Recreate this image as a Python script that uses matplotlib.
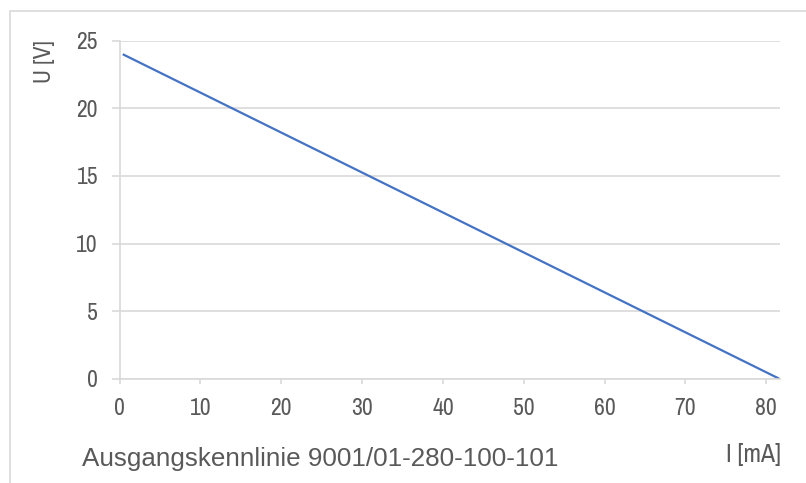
import numpy as np
import matplotlib.pyplot as plt
from matplotlib.patches import Rectangle

# output characteristic: current (mA) vs voltage (V)
current_ma = [0.4, 81.6]
voltage_v = [24.0, 0.0]

x_ticks = [0, 10, 20, 30, 40, 50, 60, 70, 80]
y_ticks = [0, 5, 10, 15, 20, 25]

title = "Ausgangskennlinie 9001/01-280-100-101"
text_col = "#595959"
grid_col = "#d9d9d9"

narrow = ['Liberation Sans Narrow', 'Archivo Narrow', 'Roboto Condensed', 'Liberation Sans', 'DejaVu Sans']
plt.rcParams['font.family'] = narrow

fig = plt.figure(figsize=(8.06, 4.83), dpi=100)
W, H = 806, 483
ax = fig.add_axes([119.5 / W, 1 - 378.7 / H, (780 - 119.5) / W, (378.7 - 40.7) / H])

ax.plot(current_ma, voltage_v, color="#4472C4", lw=1.6, solid_capstyle="butt")

ax.set_xlim(0, 81.7)
ax.set_ylim(0, 25)
ax.set_xticks(x_ticks)
ax.set_yticks(y_ticks)
ax.grid(axis="y", color=grid_col, lw=1.2)
ax.set_axisbelow(True)
for s in ["top", "right"]:
    ax.spines[s].set_visible(False)
ax.spines["left"].set_color(grid_col)
ax.spines["bottom"].set_color(grid_col)
ax.spines["left"].set_linewidth(1.2)
ax.spines["bottom"].set_linewidth(1.2)
ax.tick_params(axis="x", colors=grid_col, length=3.5, width=1.2, labelcolor=text_col,
               labelsize=17, pad=10.5)
ax.tick_params(axis="y", colors=grid_col, length=5.5, width=1.2, labelcolor=text_col,
               labelsize=17, pad=10)

fig.text(44.5 / W, 1 - 62 / H, "U [V]", color=text_col, fontsize=17, rotation=90,
         va="center", ha="center")

fig.text(82 / W, 1 - 465.7 / H, title, color=text_col, fontsize=18.7, va="baseline", ha="left",
         family=['Liberation Sans', 'DejaVu Sans'])
fig.text(781 / W, 1 - 455 / H, "I [mA]", color=text_col, fontsize=18.5, va="center", ha="right")

# outer chart frame
fig.patches.append(Rectangle((9.5 / W, -0.1), 1.0, 1 - 10.5 / H + 0.1,
                             transform=fig.transFigure, fill=False,
                             edgecolor=grid_col, lw=1.2))

fig.savefig("out.png", dpi=100)
